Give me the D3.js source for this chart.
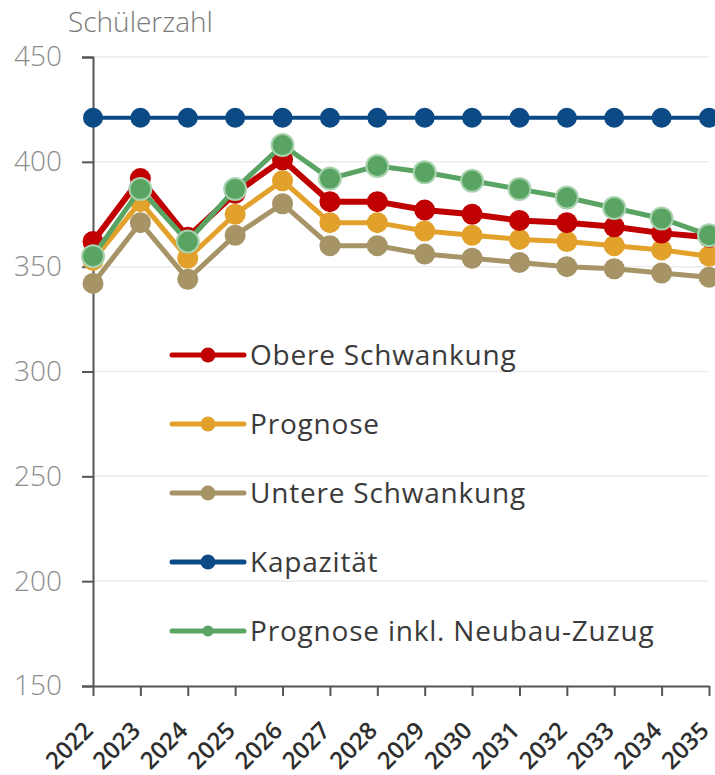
<!DOCTYPE html>
<html>
<head>
<meta charset="utf-8">
<script src="https://cdn.jsdelivr.net/npm/d3@7"></script>
<style>
body { margin:0; background:#fff; }
svg { font-family: "Open Sans", sans-serif; }
</style>
</head>
<body>
<div id="chart"></div>
<script>
// Data
const years = [2022,2023,2024,2025,2026,2027,2028,2029,2030,2031,2032,2033,2034,2035];
const obere   = [362,392,364,385,401,381,381,377,375,372,371,369,366,364];
const prognose = [353,381,354,375,391,371,371,367,365,363,362,360,358,355];
const untere  = [342,371,344,365,380,360,360,356,354,352,350,349,347,345];
const kapazitaet = [421,421,421,421,421,421,421,421,421,421,421,421,421,421];
const neubau  = [355,387,362,387,408,392,398,395,391,387,383,378,373,365];
const yTicks = [150,200,250,300,350,400,450];

const series = [
  {name:"Obere Schwankung", values:obere, color:"#c00000", lw:6, r:10.5, lr:7.5},
  {name:"Prognose", values:prognose, color:"#e2a12a", lw:5, r:10.5, lr:7.5},
  {name:"Untere Schwankung", values:untere, color:"#a69466", lw:5, r:10.5, lr:7.5},
  {name:"Kapazität", values:kapazitaet, color:"#0b4a85", lw:4, r:10, lr:7.5},
  {name:"Prognose inkl. Neubau-Zuzug", values:neubau, color:"#5aa463", lw:5, r:11, lr:5.5, stroke:"#a9d3ae"}
];
const drawOrder = ["Kapazität","Untere Schwankung","Prognose","Obere Schwankung","Prognose inkl. Neubau-Zuzug"];

// Chart size
const W = 715, H = 775;
const margin = {top:57, right:6, bottom:89, left:93};
const width = W - margin.left - margin.right;
const height = H - margin.top - margin.bottom;

const svg = d3.select("#chart").append("svg")
  .attr("width", W).attr("height", H);
const g = svg.append("g").attr("transform", `translate(${margin.left},${margin.top})`);

const x = d3.scalePoint().domain(years).range([0, width]);
const y = d3.scaleLinear().domain([150,450]).range([height, 0]);

// Gridlines
g.append("g").selectAll("line").data(yTicks.slice(1)).enter().append("line")
  .attr("x1", 0).attr("x2", width)
  .attr("y1", d => y(d)).attr("y2", d => y(d))
  .attr("stroke", "#ececec").attr("stroke-width", 1.5);

// Y axis
const yAxis = g.append("g")
  .call(d3.axisLeft(y).tickValues(yTicks).tickSize(11).tickPadding(20))
  .attr("font-family", null);
yAxis.select(".domain").attr("stroke", "#555").attr("stroke-width", 2);
yAxis.selectAll(".tick line").attr("stroke", "#555").attr("stroke-width", 2);
yAxis.selectAll("text").attr("fill", "#8c8c8c").attr("font-size", 28).attr("font-weight", 300);

// X axis
const xAxis = g.append("g").attr("transform", `translate(0,${height})`)
  .call(d3.axisBottom(x).tickSize(10).tickSizeOuter(0))
  .attr("font-family", null);
xAxis.select(".domain").attr("stroke", "#555").attr("stroke-width", 2);
xAxis.selectAll(".tick line").attr("stroke", "#555").attr("stroke-width", 2);
xAxis.selectAll("text")
  .attr("fill", "#2e2e2e").attr("font-size", 24).attr("font-weight", 600)
  .attr("text-anchor", "end").attr("x", 0).attr("y", 0).attr("dy", 0)
  .attr("transform", "translate(1,46) rotate(-45)");

// Axis title
svg.append("text").attr("x", 68).attr("y", 32)
  .attr("fill", "#7a7a7a").attr("font-size", 28).attr("font-weight", 300)
  .text("Schülerzahl");

// Lines and markers
const line = d3.line().x((d,i) => x(years[i])).y(d => y(d));
drawOrder.forEach(name => {
  const s = series.find(d => d.name === name);
  const sg = g.append("g");
  sg.append("path").datum(s.values)
    .attr("fill", "none").attr("stroke", s.color)
    .attr("stroke-width", s.lw).attr("stroke-linejoin", "round")
    .attr("d", line);
  sg.selectAll("circle").data(s.values).enter().append("circle")
    .attr("cx", (d,i) => x(years[i])).attr("cy", d => y(d))
    .attr("r", s.r).attr("fill", s.color)
    .attr("stroke", s.stroke || "none").attr("stroke-width", s.stroke ? 2 : 0);
});

// Legend
const legend = svg.append("g").attr("transform", "translate(172,355)");
const item = legend.selectAll("g").data(series).enter().append("g")
  .attr("transform", (d,i) => `translate(0,${i*69})`);
item.append("line").attr("x1", 0).attr("x2", 72).attr("y1", 0).attr("y2", 0)
  .attr("stroke", d => d.color).attr("stroke-width", 5).attr("stroke-linecap", "round");
item.append("circle").attr("cx", 36).attr("r", d => d.lr).attr("fill", d => d.color);
item.append("text").attr("x", 78).attr("y", 0).attr("dy", "0.35em")
  .attr("fill", "#3a3a3a").attr("font-size", 28).attr("letter-spacing", 0.8)
  .text(d => d.name);
</script>
</body>
</html>
